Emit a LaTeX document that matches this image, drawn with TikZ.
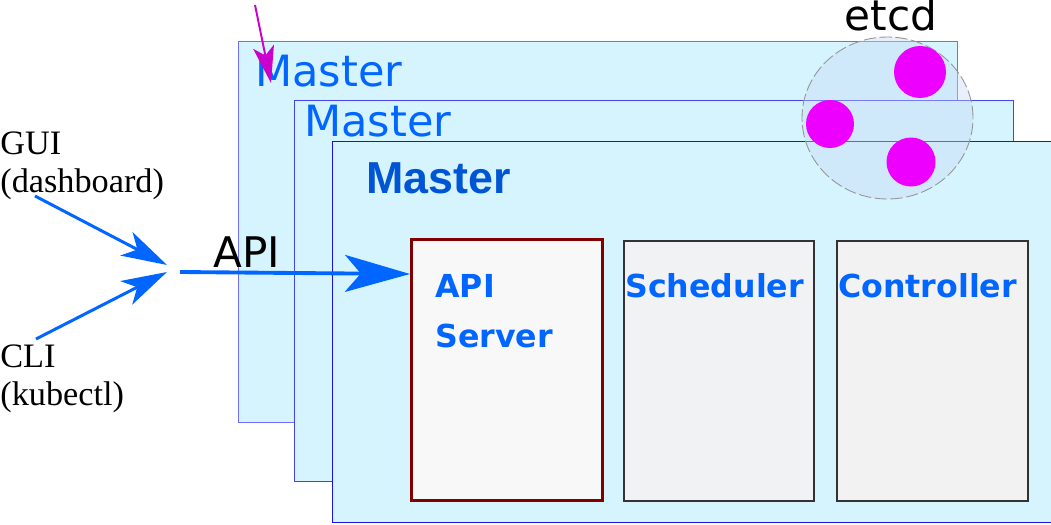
\documentclass[tikz,border=0pt]{standalone}
\usepackage{fontspec}
\usetikzlibrary{arrows.meta,shapes.geometric}
\newfontfamily\dejavu{DejaVu Sans}
\newfontfamily\arialfont{Liberation Sans}
\newfontfamily\timesfont{Liberation Serif}
\definecolor{mastercyan}{RGB}{213,244,254}
\definecolor{framefaint}{RGB}{110,110,255}
\definecolor{framedeep}{RGB}{20,20,235}
\definecolor{kblue}{RGB}{0,102,255}
\definecolor{kbold}{RGB}{0,85,212}
\definecolor{apired}{RGB}{128,0,0}
\definecolor{etcdfill}{RGB}{200,215,245}
\definecolor{etcdpink}{RGB}{238,0,255}
\definecolor{pointmag}{RGB}{204,0,204}
\def\pxunit{0.02cm}

\begin{document}
\begin{tikzpicture}[x=0.02cm,y=-0.02cm,
	frame/.style={draw=#1, fill=mastercyan, line width=0.6pt, anchor=north west, inner sep=0pt,
		minimum width=719*\pxunit, minimum height=381*\pxunit},
	framelabel/.style={anchor=base west, inner sep=0pt, text=kblue, font=\dejavu\fontsize{24.5}{28}\selectfont},
	component/.style={draw=black!80, line width=1.1pt, anchor=north west, inner sep=0pt,
		minimum width=190*\pxunit, minimum height=260*\pxunit},
	comptext/.style={anchor=base west, inner sep=0pt, text=kblue, font=\dejavu\bfseries\fontsize{18}{21}\selectfont},
	client/.style={anchor=base west, inner sep=0pt, align=left, font=\timesfont\fontsize{19.5}{21.5}\selectfont},
	feed/.style={draw=kblue, line width=1.7pt, -{Stealth[length=26pt,width=15pt,inset=7pt]}},
	member/.style={circle, fill=etcdpink, inner sep=0pt}]
	%%%%% START %%%%%
	\useasboundingbox (0,0) rectangle (1051,524);
	
	% three master frames
	\node[frame=framefaint] (master1) at (238,41) {};
	\node[framelabel] at (255,86) {Master};
	\node[frame=framedeep!80] (master2) at (294,100) {};
	\node[framelabel] at (304,136) {Master};
	\node[frame=framedeep] (master3) at (332,141) {};
	\node[anchor=base west, inner sep=0pt, text=kbold, font=\arialfont\bfseries\fontsize{25.5}{29}\selectfont] at (366,193) {Master};
	
	% components
	\node[component, draw=apired, line width=1.7pt, fill={rgb,255:red,248;green,248;blue,248},
		minimum width=191*\pxunit, minimum height=261*\pxunit] (apiserver) at (410,238) {};
	\node[comptext] at (435,297) {API};
	\node[comptext] at (435,347) {Server};
	\node[component, fill={rgb,255:red,241;green,242;blue,244}] (scheduler) at (623,240) {};
	\node[comptext] at (625,297) {Scheduler};
	\node[component, fill={rgb,255:red,242;green,242;blue,242}, minimum width=191*\pxunit] (controller) at (836,240) {};
	\node[comptext] at (838,297) {Controller};
	
	% clients
	\node[client] (gui) at (0,192) {GUI\\(dashboard)};
	\node[client] (cli) at (0,405) {CLI\\(kubectl)};
	\coordinate (gui tail) at (35,196);
	\coordinate (gui tip) at (167,265);
	\coordinate (cli tail) at (36,339);
	\coordinate (cli tip) at (167,272);
	\coordinate (api tail) at (180,272);
	\draw[feed] (gui tail) -- (gui tip);
	\draw[feed] (cli tail) -- (cli tip);
	\draw[feed, line width=2.2pt, -{Stealth[length=37pt,width=21pt,inset=9pt]}] (api tail) -- (apiserver.west |- 0,274);
	\node[anchor=base west, inner sep=0pt, font=\dejavu\fontsize{24}{28}\selectfont] (api) at (213,267) {API};
	
	% etcd
	\node[ellipse, draw={rgb,255:red,150;green,150;blue,150}, line width=0.5pt, dash pattern=on 7pt off 2pt,
		fill=etcdfill, fill opacity=0.4, draw opacity=1, minimum width=171*\pxunit, minimum height=162*\pxunit] (etcd) at (887.5,118) {};
	\node[anchor=base, inner sep=0pt, font=\dejavu\fontsize{24}{28}\selectfont] at (891,31) {etcd};
	\node[member, minimum size=52*\pxunit] (etcd1) at (920,72) {};
	\node[member, minimum size=48*\pxunit] (etcd2) at (830,124) {};
	\node[member, minimum size=49*\pxunit] (etcd3) at (911,162) {};
	
	% pointer
	\coordinate (mag tail) at (255,5);
	\coordinate (mag tip) at (271,83);
	\draw[pointmag, line width=1.1pt, -{Stealth[length=21pt,width=12pt,inset=5pt]}] (mag tail) -- (mag tip);
	
	%%%%% END %%%%%
\end{tikzpicture}
\end{document}
